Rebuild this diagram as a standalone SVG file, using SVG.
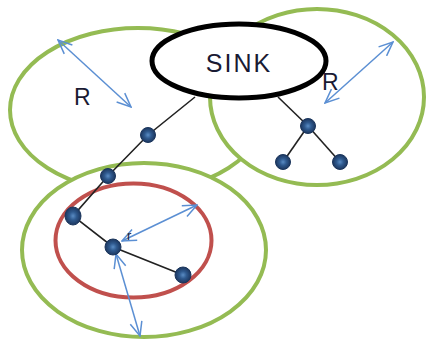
<svg xmlns="http://www.w3.org/2000/svg" width="426" height="342" viewBox="0 0 426 342">
<style>
.zone{fill:#fff;stroke:#94bb53;stroke-width:4}
.red{fill:none;stroke:#c0504d;stroke-width:4}
.sink{fill:#fff;stroke:#000;stroke-width:5}
.link{stroke:#222;stroke-width:1.6;fill:none}
.rng{stroke:#5b8fd3;stroke-width:1.5;fill:none;marker-start:url(#ah);marker-end:url(#ah)}
.node{fill:url(#ng);stroke:#1a355c;stroke-width:1}
.lbl{font-family:"Liberation Sans",Arial,sans-serif;fill:#1a1a33}
</style>
<defs>
<radialGradient id="ng" cx="0.5" cy="0.5" r="0.5">
<stop offset="0" stop-color="#5a8cc4"/>
<stop offset="0.45" stop-color="#2f5a8f"/>
<stop offset="1" stop-color="#1c365e"/>
</radialGradient>
<marker id="ah" viewBox="0 0 16 14" refX="15" refY="7" markerWidth="16" markerHeight="14" markerUnits="userSpaceOnUse" orient="auto-start-reverse">
<path d="M1,1 L15,7 L1,13" fill="none" stroke="#5b8fd3" stroke-width="1.5"/>
</marker>
</defs>
<g id="zone-left"><ellipse class="zone" cx="138" cy="110" rx="128" ry="82"/></g>
<g id="zone-right"><ellipse class="zone" cx="317" cy="97" rx="107" ry="88"/></g>
<g id="zone-bottom"><ellipse class="zone" cx="144" cy="250" rx="122" ry="87"/></g>
<g id="zone-inner"><ellipse class="red" cx="133.5" cy="240.5" rx="78" ry="57"/></g>
<g id="connectors">
<polyline class="link" points="195,97 148,135 108,176 73,216 113,247 183,275"/>
<line class="link" x1="278" y1="97" x2="308" y2="126"/>
<line class="link" x1="308" y1="126" x2="283" y2="162"/>
<line class="link" x1="308" y1="126" x2="340" y2="162"/>
</g>
<g id="sink"><ellipse class="sink" cx="239" cy="61" rx="87" ry="37"/>
<text class="lbl" x="239" y="72" font-size="25" text-anchor="middle" letter-spacing="2">SINK</text></g>
<g id="ranges">
<line class="rng" x1="58" y1="40" x2="131" y2="107"/>
<line class="rng" x1="393" y1="42" x2="325" y2="103"/>
<line class="rng" x1="197" y1="205" x2="122" y2="241"/>
<line class="rng" x1="116" y1="254" x2="140" y2="336"/>
</g>
<g id="labels">
<text class="lbl" x="74" y="105" font-size="23">R</text>
<text class="lbl" x="322" y="90" font-size="23">R</text>
<text class="lbl" x="127" y="240" font-size="13">r</text>
</g>
<g id="n1"><circle class="node" cx="148" cy="135" r="7.5"/></g>
<g id="n2"><circle class="node" cx="108" cy="176" r="7.5"/></g>
<g id="n3"><ellipse class="node" cx="73" cy="216" rx="8" ry="9"/></g>
<g id="n4"><circle class="node" cx="113" cy="247" r="8"/></g>
<g id="n5"><circle class="node" cx="183" cy="275" r="8"/></g>
<g id="n6"><circle class="node" cx="308" cy="126" r="7.5"/></g>
<g id="n7"><circle class="node" cx="283" cy="162" r="7.5"/></g>
<g id="n8"><circle class="node" cx="340" cy="162" r="7.5"/></g>
</svg>
